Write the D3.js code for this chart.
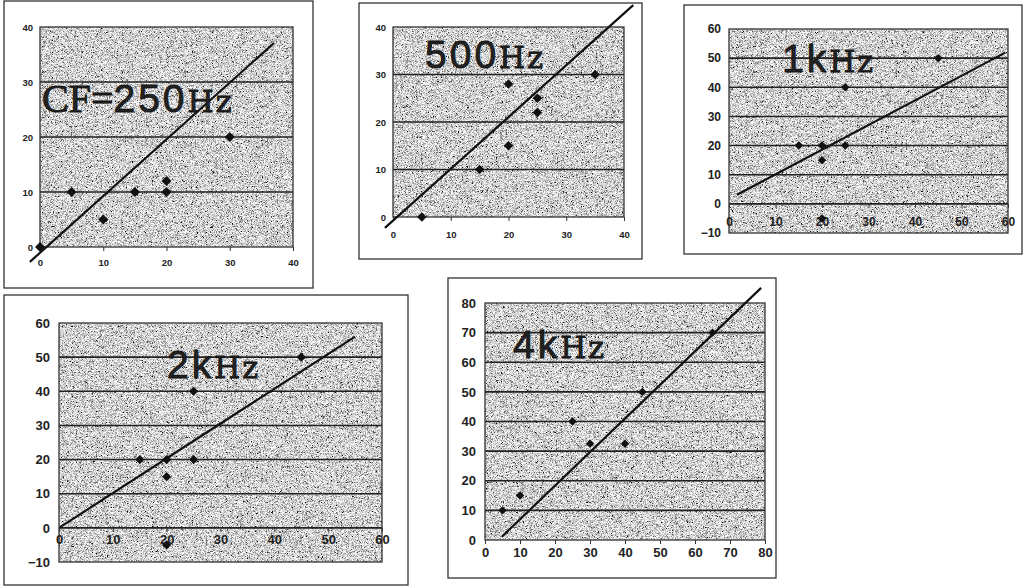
<!DOCTYPE html>
<html>
<head>
<meta charset="utf-8">
<script src="https://cdn.jsdelivr.net/npm/d3@7"></script>
<style>
  body { margin: 0; background: #fff; }
  svg { display: block; }
  .tick-label { font-family: "Liberation Sans", Arial, sans-serif; font-weight: bold; fill: #222; }
</style>
</head>
<body>
<svg id="chart" width="1027" height="588"></svg>
<script>
// values
var x250 = [0, 5, 10, 15, 20, 20, 30],
    y250 = [0, 10, 5, 10, 10, 12, 20];
var x500 = [5, 15, 20, 20, 25, 25, 35],
    y500 = [0, 10, 15, 28, 22, 25, 30];
var x1k = [15, 20, 20, 20, 25, 25, 45],
    y1k = [20, 20, 15, -5, 20, 40, 50];
var x2k = [15, 20, 20, 20, 25, 25, 45],
    y2k = [20, 20, 15, -5, 20, 40, 50];
var x4k = [5, 10, 25, 30, 40, 45, 65],
    y4k = [10, 15, 40, 32.5, 32.5, 50, 70];

// fitted line end points [x, y]
var fit250 = [[-1.6, -2.7], [37, 37.1]];
var fit500 = [[-1.4, -2.3], [41.6, 44.6]];
var fit1k = [[1.7, 3.1], [59.4, 51.9]];
var fit2k = [[0.2, 0.2], [55, 56]];
var fit4k = [[4.8, 1.1], [78.9, 85.1]];

// tick labels
var ticks40 = [0, 10, 20, 30, 40];
var ticks60 = [0, 10, 20, 30, 40, 50, 60];
var ticks60neg = [-10, 0, 10, 20, 30, 40, 50, 60];
var ticks80 = [0, 10, 20, 30, 40, 50, 60, 70, 80];

// title pieces: [text, serif?]
var title250 = [["CF=", true], ["250", false], ["Hz", true]];
var title500 = [["500", false], ["Hz", true]];
var title1k = [["1k", false], ["Hz", true]];
var title2k = [["2k", false], ["Hz", true]];
var title4k = [["4k", false], ["Hz", true]];

var svg = d3.select("#chart");

// speckled grey fill like the printed chart
var defs = svg.append("defs");
var f = defs.append("filter").attr("id", "grain")
    .attr("x", 0).attr("y", 0).attr("width", 1).attr("height", 1);
f.append("feTurbulence").attr("type", "fractalNoise")
    .attr("baseFrequency", 1.8).attr("numOctaves", 1).attr("seed", 7).attr("result", "noise");
f.append("feColorMatrix").attr("in", "noise").attr("type", "matrix")
    .attr("values", "2.6 0 0 0 -0.66  2.6 0 0 0 -0.66  2.6 0 0 0 -0.66  0 0 0 0 1")
    .attr("result", "grey");
f.append("feComposite").attr("in", "grey").attr("in2", "SourceGraphic").attr("operator", "in");

var panels = [
  {xs: x250, ys: y250, fit: fit250, xt: ticks40, yt: ticks40, title: title250,
   frame: [4, 1, 309, 287], plot: [40, 293, 27, 247], fs: 9.5, xLabY: 266, yLabX: 33, mark: 50,
   tx: 42, ty: 112},
  {xs: x500, ys: y500, fit: fit500, xt: ticks40, yt: ticks40, title: title500,
   frame: [359, 3, 283, 256], plot: [393, 624, 27, 217], fs: 9.5, xLabY: 238, yLabX: 386, mark: 45,
   tx: 425, ty: 68},
  {xs: x1k, ys: y1k, fit: fit1k, xt: ticks60, yt: ticks60neg, title: title1k,
   frame: [684, 5, 338, 249], plot: [729, 1008, 29, 233], fs: 12, xLabY: 226, yLabX: 721, mark: 36,
   tx: 782, ty: 72, axisAtZero: true},
  {xs: x2k, ys: y2k, fit: fit2k, xt: ticks60, yt: ticks60neg, title: title2k,
   frame: [4, 295, 404, 290], plot: [59, 382, 323, 562], fs: 13, xLabY: 545, yLabX: 50, mark: 42,
   tx: 167, ty: 378, axisAtZero: true},
  {xs: x4k, ys: y4k, fit: fit4k, xt: ticks80, yt: ticks80, title: title4k,
   frame: [448, 278, 328, 300], plot: [485, 765, 303, 540], fs: 13, xLabY: 558, yLabX: 476, mark: 36,
   tx: 513, ty: 358}
];

panels.forEach(drawPanel);

function drawPanel(p) {
  var g = svg.append("g");
  var l = p.plot[0], r = p.plot[1], t = p.plot[2], b = p.plot[3];

  var x = d3.scaleLinear().domain(d3.extent(p.xt)).range([l, r]);
  var y = d3.scaleLinear().domain(d3.extent(p.yt)).range([b, t]);

  // outer frame
  g.append("rect")
      .attr("x", p.frame[0]).attr("y", p.frame[1])
      .attr("width", p.frame[2]).attr("height", p.frame[3])
      .attr("fill", "#fff").attr("stroke", "#333").attr("stroke-width", 1.3);

  // plot area
  g.append("rect")
      .attr("x", l).attr("y", t).attr("width", r - l).attr("height", b - t)
      .attr("fill", "#999").attr("filter", "url(#grain)");

  // grid lines
  g.selectAll(".grid")
    .data(p.yt.slice(1, -1))
    .enter().append("line")
      .attr("x1", l).attr("x2", r)
      .attr("y1", function(d) { return y(d); })
      .attr("y2", function(d) { return y(d); })
      .attr("stroke", "#222").attr("stroke-width", 1.6);

  g.append("rect")
      .attr("x", l).attr("y", t).attr("width", r - l).attr("height", b - t)
      .attr("fill", "none").attr("stroke", "#333").attr("stroke-width", 1.3);

  // y labels
  g.append("g")
      .attr("transform", "translate(" + l + ",0)")
      .call(d3.axisLeft(y).tickValues(p.yt).tickSize(0).tickPadding(l - p.yLabX)
        .tickFormat(function(d) { return d < 0 ? "\u2212" + (-d) : d; }))
      .call(function(a) {
        a.select(".domain").remove();
        a.selectAll("text").attr("class", "tick-label").attr("font-size", p.fs);
      });

  // x axis, at y = 0 where the range goes negative
  var axisY = p.axisAtZero ? y(0) : b;
  g.append("g").attr("transform", "translate(0," + axisY + ")")
      .call(d3.axisBottom(x).tickValues(p.xt).tickSize(4).tickPadding(p.xLabY - axisY - 4 - p.fs * 0.75))
      .call(function(a) {
        a.select(".domain").remove();
        a.selectAll("line").attr("stroke", "#333");
        a.selectAll("text").attr("class", "tick-label").attr("font-size", p.fs).attr("dy", "0.71em");
      });

  // fitted line
  g.append("line")
      .attr("x1", x(p.fit[0][0])).attr("y1", y(p.fit[0][1]))
      .attr("x2", x(p.fit[1][0])).attr("y2", y(p.fit[1][1]))
      .attr("stroke", "#111").attr("stroke-width", 2.2);

  // points
  var sym = d3.symbol().type(d3.symbolSquare).size(p.mark);
  g.selectAll(".pt")
    .data(d3.range(p.xs.length))
    .enter().append("path")
      .attr("d", sym)
      .attr("transform", function(i) {
        return "translate(" + x(p.xs[i]) + "," + y(p.ys[i]) + ") rotate(45)";
      })
      .attr("fill", "#111");

  // big title
  var txt = g.append("text").attr("x", p.tx).attr("y", p.ty)
      .attr("fill", "#222").attr("stroke", "#111").attr("stroke-width", 0.8);
  p.title.forEach(function(part) {
    var ts = txt.append("tspan").text(part[0]);
    if (part[1]) {
      if (part[0] === "Hz") {
        ts.attr("font-family", "'DejaVu Serif', serif").attr("font-size", 30).attr("letter-spacing", 2);
      } else {
        ts.attr("font-family", "'Liberation Serif', serif").attr("font-size", 40);
      }
    } else {
      ts.attr("font-family", "'Liberation Sans', Arial, sans-serif").attr("font-size", 39)
        .attr("letter-spacing", 3);
    }
  });
}
</script>
</body>
</html>
